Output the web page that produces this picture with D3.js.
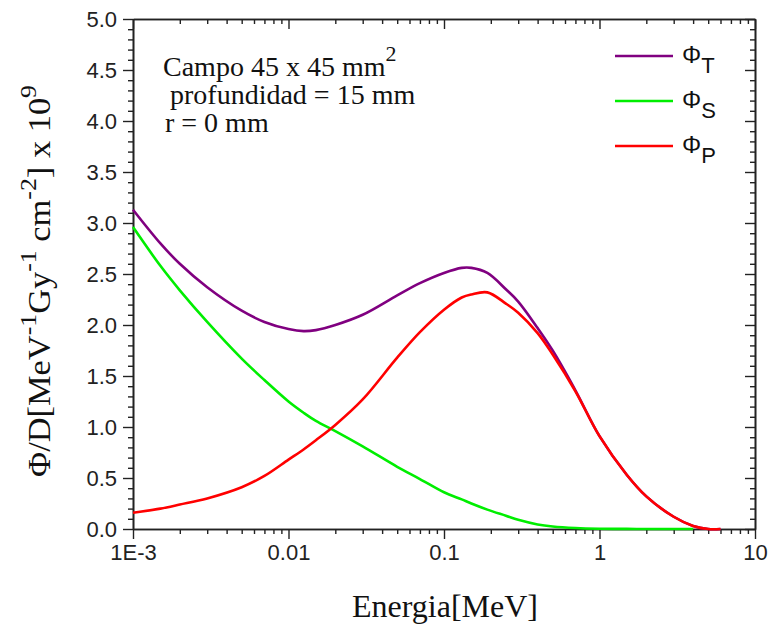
<!DOCTYPE html>
<html>
<head>
<meta charset="utf-8">
<script src="https://cdn.jsdelivr.net/npm/d3@7"></script>
<style>
  html, body { margin: 0; padding: 0; background: #fff; }
  svg { display: block; }
</style>
</head>
<body>
<svg id="chart" width="770" height="628"></svg>
<script>
// Photon fluence spectra per unit dose (x 10^9), field 45 x 45 mm², depth 15 mm, r = 0 mm
const energies = [0.001, 0.0015, 0.002, 0.003, 0.005, 0.007, 0.01, 0.0125, 0.015, 0.02, 0.03, 0.05, 0.07,
                  0.1, 0.13, 0.15, 0.19, 0.25, 0.3, 0.4, 0.5, 0.7, 1, 1.5, 2, 3, 4, 5, 6];
const phiT = [3.13, 2.80, 2.60, 2.37, 2.14, 2.03, 1.96, 1.94, 1.95, 2.00, 2.10, 2.29, 2.41,
              2.51, 2.56, 2.56, 2.51, 2.35, 2.23, 1.97, 1.75, 1.36, 0.91, 0.53, 0.32, 0.12, 0.03, 0.0, 0.0];
const phiS = [2.96, 2.58, 2.34, 2.03, 1.67, 1.46, 1.25, 1.14, 1.06, 0.96, 0.81, 0.61, 0.49,
              0.36, 0.29, 0.25, 0.19, 0.13, 0.09, 0.045, 0.025, 0.01, 0.003, 0.001, 0, 0, 0, null, null];
const phiP = [0.16, 0.20, 0.24, 0.30, 0.41, 0.52, 0.68, 0.78, 0.87, 1.02, 1.27, 1.68, 1.93,
              2.15, 2.27, 2.30, 2.32, 2.21, 2.12, 1.92, 1.71, 1.35, 0.91, 0.53, 0.32, 0.12, 0.03, 0.0, 0.0];

const seriesNames = ["T", "S", "P"];
const seriesColors = ["#800080", "#00ee00", "#ff0000"];
const xTickValues = [0.001, 0.01, 0.1, 1, 10];
const xTickLabels = ["1E-3", "0.01", "0.1", "1", "10"];
const yTickValues = [0, 0.5, 1, 1.5, 2, 2.5, 3, 3.5, 4, 4.5, 5];

const svg = d3.select("#chart");
const margin = { left: 133, top: 19, right: 15, bottom: 99 };
const W = 770, H = 628;
const x0 = margin.left, x1 = W - margin.right, y0 = H - margin.bottom, y1 = margin.top;

const x = d3.scaleLog().domain([0.001, 10]).range([x0, x1]);
const y = d3.scaleLinear().domain([0, 5]).range([y0, y1]);

const sansFont = "'Liberation Sans', Arial, sans-serif";
const serifFont = "'Liberation Serif', 'Times New Roman', serif";

// minor ticks
const xMinor = x.ticks().filter(v => !xTickValues.some(t => Math.abs(t - v) < 1e-12));
const yMinor = d3.range(0, 5.0001, 0.1).map(v => +v.toFixed(1)).filter(v => !yTickValues.includes(v));

function styleAxis(g) {
  g.selectAll("path.domain").attr("stroke", "#222").attr("stroke-width", 1.6);
  g.selectAll(".tick line").attr("stroke", "#222").attr("stroke-width", 1.4);
  g.selectAll(".tick text").attr("fill", "#222").style("font-family", sansFont).style("font-size", "22px");
}

// bottom axis (outward ticks, labels)
svg.append("g").attr("transform", `translate(0,${y0})`)
  .call(d3.axisBottom(x).tickValues(xTickValues).tickSize(10).tickSizeOuter(0).tickPadding(5)
    .tickFormat((d, i) => xTickLabels[i]))
  .call(styleAxis);
svg.append("g").attr("transform", `translate(0,${y0})`)
  .call(d3.axisBottom(x).tickValues(xMinor).tickSize(5).tickSizeOuter(0).tickFormat(""))
  .call(styleAxis);

// top axis (inward ticks)
svg.append("g").attr("transform", `translate(0,${y1})`)
  .call(d3.axisTop(x).tickValues(xTickValues).tickSize(-10).tickSizeOuter(0).tickFormat(""))
  .call(styleAxis);
svg.append("g").attr("transform", `translate(0,${y1})`)
  .call(d3.axisTop(x).tickValues(xMinor).tickSize(-5).tickSizeOuter(0).tickFormat(""))
  .call(styleAxis);

// left axis (outward ticks, labels)
svg.append("g").attr("transform", `translate(${x0},0)`)
  .call(d3.axisLeft(y).tickValues(yTickValues).tickSize(10).tickSizeOuter(0).tickPadding(6)
    .tickFormat(d3.format(".1f")))
  .call(styleAxis);
svg.append("g").attr("transform", `translate(${x0},0)`)
  .call(d3.axisLeft(y).tickValues(yMinor).tickSize(5).tickSizeOuter(0).tickFormat(""))
  .call(styleAxis);

// right axis (inward ticks)
svg.append("g").attr("transform", `translate(${x1},0)`)
  .call(d3.axisRight(y).tickValues(yTickValues).tickSize(-10).tickSizeOuter(0).tickFormat(""))
  .call(styleAxis);
svg.append("g").attr("transform", `translate(${x1},0)`)
  .call(d3.axisRight(y).tickValues(yMinor).tickSize(-5).tickSizeOuter(0).tickFormat(""))
  .call(styleAxis);

// spectra
const seriesData = [phiT, phiS, phiP];
const line = d3.line()
  .defined(d => d[1] !== null)
  .x(d => x(d[0]))
  .y(d => y(d[1]))
  .curve(d3.curveCatmullRom.alpha(0.5));

seriesData.forEach((vals, i) => {
  svg.append("path")
    .datum(energies.map((e, k) => [e, vals[k]]))
    .attr("fill", "none")
    .attr("stroke", seriesColors[i])
    .attr("stroke-width", 2.6)
    .attr("stroke-linejoin", "round")
    .attr("d", line);
});

// legend
const legend = svg.append("g").attr("transform", "translate(615,56)");
seriesNames.forEach((name, i) => {
  const row = legend.append("g").attr("transform", `translate(0,${i * 45})`);
  row.append("line").attr("x1", 0).attr("x2", 58).attr("y1", 0).attr("y2", 0)
    .attr("stroke", seriesColors[i]).attr("stroke-width", 2.6);
  const t = row.append("text").attr("x", 67).attr("y", 7)
    .style("font-family", sansFont).style("font-size", "24px").attr("fill", "#111");
  t.append("tspan").text("Φ");
  t.append("tspan").attr("dy", 10).style("font-size", "22px").text(name);
});

// annotation
const note = svg.append("g").style("font-family", serifFont).style("font-size", "28px").attr("fill", "#111");
const l1 = note.append("text").attr("x", 163).attr("y", 76);
l1.append("tspan").text("Campo 45 x 45 mm");
l1.append("tspan").attr("dy", -15).style("font-size", "22px").text("2");
note.append("text").attr("x", 163).attr("y", 104).attr("xml:space", "preserve").text(" profundidad = 15 mm");
note.append("text").attr("x", 165).attr("y", 132).text("r = 0 mm");

// x-axis title
svg.append("text").attr("x", (x0 + x1) / 2 + 1).attr("y", 617)
  .attr("text-anchor", "middle")
  .style("font-family", serifFont).style("font-size", "32px").attr("fill", "#111")
  .text("Energia[MeV]");

// y-axis title
const yTitleG = svg.append("g").attr("transform", "translate(50,281) rotate(-90)");
const yt = yTitleG.append("text").attr("text-anchor", "middle")
  .style("font-family", serifFont).style("font-size", "32px").attr("fill", "#111");
const parts = [["Φ/D[MeV", 0], ["-1", 1], ["Gy", 0], ["-1", 1], [" cm", 0], ["-2", 1], ["] x 10", 0], ["9", 1]];
let prevSup = false;
parts.forEach(([s, sup]) => {
  const ts = yt.append("tspan").attr("xml:space", "preserve").text(s);
  if (sup) { ts.attr("dy", prevSup ? 0 : -14).style("font-size", "24px"); }
  else if (prevSup) { ts.attr("dy", 14); }
  prevSup = !!sup;
});
const len = yt.node().getComputedTextLength();
const target = 392;
yt.attr("transform", `scale(${target / len},1)`);
</script>
</body>
</html>
